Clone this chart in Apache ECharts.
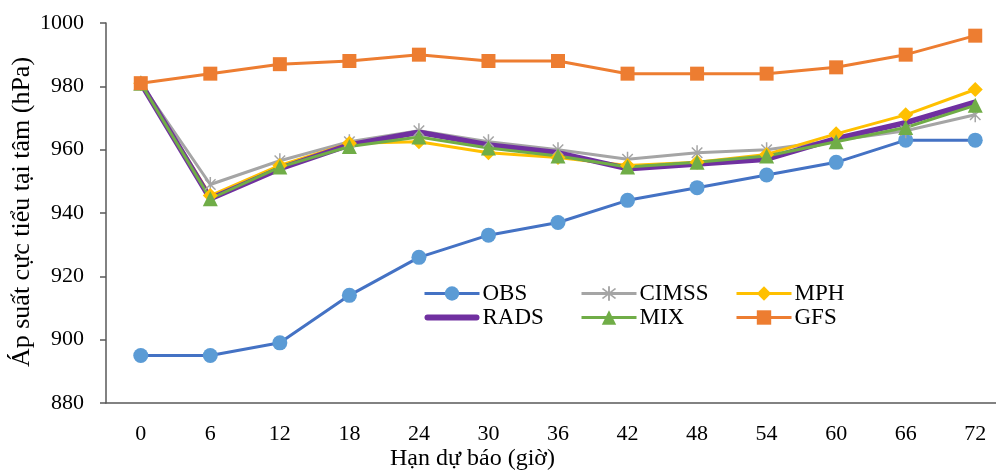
<!DOCTYPE html>
<html>
<head>
<meta charset="utf-8">
<script src="https://cdn.jsdelivr.net/npm/echarts@6/dist/echarts.min.js"></script>
<style>
  html, body { margin: 0; padding: 0; background: #fff; overflow: hidden; }
  #chart { width: 1010px; height: 475px; }
</style>
</head>
<body>
<div id="chart"></div>
<script>
// Forecast lead times (hours)
var leadTimes = ['0', '6', '12', '18', '24', '30', '36', '42', '48', '54', '60', '66', '72'];

// Minimum central pressure (hPa) per source
var obs   = [895, 895, 899, 914, 926, 933, 937, 944, 948, 952, 956, 963, 963];
var cimss = [981, 949, 956.5, 962.5, 966, 962.5, 960, 957, 959, 960, 963, 966, 971];
var mph   = [981, 945.5, 955, 962, 962.5, 959, 957.5, 955, 956, 958.5, 965, 971, 979];
var rads  = [981, 944.5, 954, 961.5, 965.5, 961.5, 959, 954, 955.5, 957, 963.5, 968.5, 975];
var mix   = [981, 944.5, 954.5, 961, 964, 960.5, 958, 954.5, 956, 958, 962.5, 967, 974];
var gfs   = [981, 984, 987, 988, 990, 988, 988, 984, 984, 984, 986, 990, 996];

var yMin = 880, yMax = 1000, yStep = 20;

var FONT = '"Liberation Serif", "Times New Roman", serif';

// six-armed asterisk marker built from thin bars
var starPath = 'path://M-1,-10 L1,-10 L1,10 L-1,10 Z ' +
  'M-6.3,-7.7 L7.7,6.3 L6.3,7.7 L-7.7,-6.3 Z ' +
  'M-7.7,6.3 L6.3,-7.7 L7.7,-6.3 L-6.3,7.7 Z';

// thick rounded bar used as the legend key of the marker-less series
var barIcon = 'path://M3,0 L52,0 A3,3 0 0 1 52,6 L3,6 A3,3 0 0 1 3,0 Z';

function lineSeries(name, data, lineColor, markColor, symbol, size, width, extra) {
  var s = {
    name: name,
    type: 'line',
    data: data,
    symbol: symbol,
    symbolSize: size,
    showSymbol: symbol !== 'none',
    lineStyle: { color: lineColor, width: width },
    itemStyle: { color: markColor, borderWidth: 0 },
    emphasis: { disabled: true },
    z: 2
  };
  if (extra) { for (var k in extra) s[k] = extra[k]; }
  return s;
}

var chart = echarts.init(document.getElementById('chart'), null, { renderer: 'canvas' });

function legendAt(left, names) {
  return {
    orient: 'vertical',
    left: left,
    top: 277,
    itemWidth: 55,
    itemHeight: 18,
    itemGap: 1,
    lineStyle: { width: 'inherit' },
    textStyle: { fontFamily: FONT, fontSize: 23, color: '#000', padding: [0, 0, 0, -2] },
    selectedMode: false,
    data: names
  };
}

chart.setOption({
  animation: false,
  backgroundColor: '#fff',
  grid: { left: 106, top: 23, right: 0, bottom: 72, containLabel: false },
  legend: [
    legendAt(418, ['OBS', { name: 'RADS', icon: barIcon }]),
    legendAt(575, ['CIMSS', 'MIX']),
    legendAt(730, ['MPH', 'GFS'])
  ],
  xAxis: {
    type: 'category',
    data: leadTimes,
    boundaryGap: true,
    axisLine: { lineStyle: { color: '#595959', width: 1.5 } },
    axisTick: { show: false },
    axisLabel: { color: '#000', fontFamily: FONT, fontSize: 22, margin: 20 },
    splitLine: { show: false }
  },
  yAxis: {
    type: 'value',
    min: yMin,
    max: yMax,
    interval: yStep,
    axisLine: { show: true, lineStyle: { color: '#595959', width: 1.5 } },
    axisTick: { show: true, length: 6, lineStyle: { color: '#595959', width: 1.5 } },
    axisLabel: {
      color: '#000', fontFamily: FONT, fontSize: 22, margin: 22,
      formatter: function (v) { return String(v); }
    },
    splitLine: { show: false }
  },
  graphic: [
    {
      type: 'text',
      x: 22,
      y: 212,
      rotation: Math.PI / 2,
      style: {
        text: 'Áp suất cực tiểu tại tâm (hPa)',
        font: '26px ' + FONT,
        fill: '#000',
        align: 'center',
        verticalAlign: 'middle'
      }
    },
    {
      type: 'text',
      left: 390,
      top: 447,
      style: {
        text: 'Hạn dự báo (giờ)',
        font: '24px ' + FONT,
        fill: '#000'
      }
    }
  ],
  series: [
    lineSeries('OBS', obs, '#4472C4', '#5B9BD5', 'circle', 15, 3),
    lineSeries('CIMSS', cimss, '#A5A5A5', '#A5A5A5', starPath, 15, 3, { symbolKeepAspect: true }),
    lineSeries('MPH', mph, '#FFC000', '#FFC000', 'diamond', 15, 3),
    lineSeries('RADS', rads, '#7030A0', '#7030A0', 'none', 0, 5.5),
    lineSeries('MIX', mix, '#70AD47', '#70AD47', 'triangle', 15, 3),
    lineSeries('GFS', gfs, '#ED7D31', '#ED7D31', 'rect', 14, 3)
  ]
});
</script>
</body>
</html>
